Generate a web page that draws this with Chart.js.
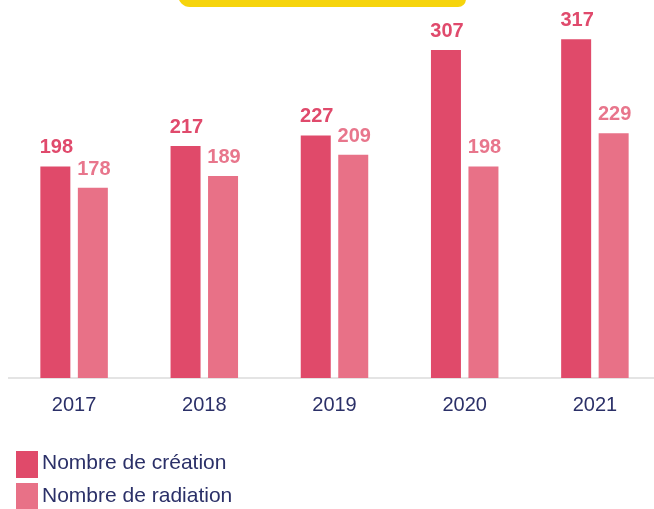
<!DOCTYPE html>
<html>
<head>
<meta charset="utf-8">
<script src="https://cdn.jsdelivr.net/npm/chart.js@4.4.1/dist/chart.umd.min.js"></script>
<style>
  html, body { margin: 0; padding: 0; background: #ffffff; overflow: hidden; }
  #wrap { position: absolute; left: 0; top: 0; width: 662px; height: 509px; }
</style>
</head>
<body>
<div id="wrap"><canvas id="c"></canvas></div>
<script>
const categories = ["2017", "2018", "2019", "2020", "2021"];
const creation = [198, 217, 227, 307, 317];
const radiation = [178, 189, 209, 198, 229];
const seriesLabels = ["Nombre de création", "Nombre de radiation"];

const darkColor = "#e04a6a";
const lightColor = "#e87187";
const textNavy = "#2b3068";

const valueLabels = {
  id: "valueLabels",
  afterDatasetsDraw(chart) {
    const ctx = chart.ctx;
    ctx.save();
    ctx.font = "bold 20px 'Liberation Sans', Arial, sans-serif";
    ctx.textAlign = "center";
    ctx.textBaseline = "alphabetic";
    chart.data.datasets.forEach((ds, di) => {
      const meta = chart.getDatasetMeta(di);
      ctx.fillStyle = ds.labelColor;
      meta.data.forEach((bar, i) => {
        ctx.fillText(String(ds.data[i]), bar.x + 1, bar.y - 13);
      });
    });
    ctx.restore();
  }
};

const decor = {
  id: "decor",
  beforeDraw(chart) {
    const ctx = chart.ctx;
    ctx.save();
    ctx.fillStyle = "#f6d40c";
    ctx.beginPath();
    ctx.roundRect(178, -40, 288, 47, [0, 0, 8, 12]);
    ctx.fill();
    ctx.restore();
  }
};

const customLegend = {
  id: "customLegend",
  afterDraw(chart) {
    const ctx = chart.ctx;
    ctx.save();
    ctx.font = "21px 'Liberation Sans', Arial, sans-serif";
    ctx.textAlign = "left";
    ctx.textBaseline = "alphabetic";
    const rows = [{ y: 451, base: 469 }, { y: 483, base: 502 }];
    chart.data.datasets.forEach((ds, di) => {
      const r = rows[di];
      ctx.fillStyle = ds.backgroundColor;
      ctx.fillRect(16, r.y, 22, 27);
      ctx.fillStyle = textNavy;
      ctx.fillText(ds.label, 42, r.base);
    });
    ctx.restore();
  }
};

new Chart(document.getElementById("c"), {
  type: "bar",
  data: {
    labels: categories,
    datasets: [
      { label: seriesLabels[0], data: creation, backgroundColor: darkColor, labelColor: "#e04a6c",
        categoryPercentage: 0.576, barPercentage: 0.8 },
      { label: seriesLabels[1], data: radiation, backgroundColor: lightColor, labelColor: "#e8768c",
        categoryPercentage: 0.576, barPercentage: 0.8 }
    ]
  },
  options: {
    responsive: true,
    maintainAspectRatio: false,
    animation: false,
    layout: { padding: { left: 9, right: 2, top: 4, bottom: 77 } },
    plugins: { legend: { display: false }, tooltip: { enabled: false } },
    scales: {
      x: {
        grid: { display: false, drawTicks: false },
        border: { display: true, color: "#e4e4e4", width: 2 },
        ticks: { color: textNavy, font: { family: "'Liberation Sans', Arial, sans-serif", size: 20 }, padding: 15 }
      },
      y: { display: false, min: 0, max: 350 }
    }
  },
  plugins: [decor, valueLabels, customLegend]
});
</script>
</body>
</html>
